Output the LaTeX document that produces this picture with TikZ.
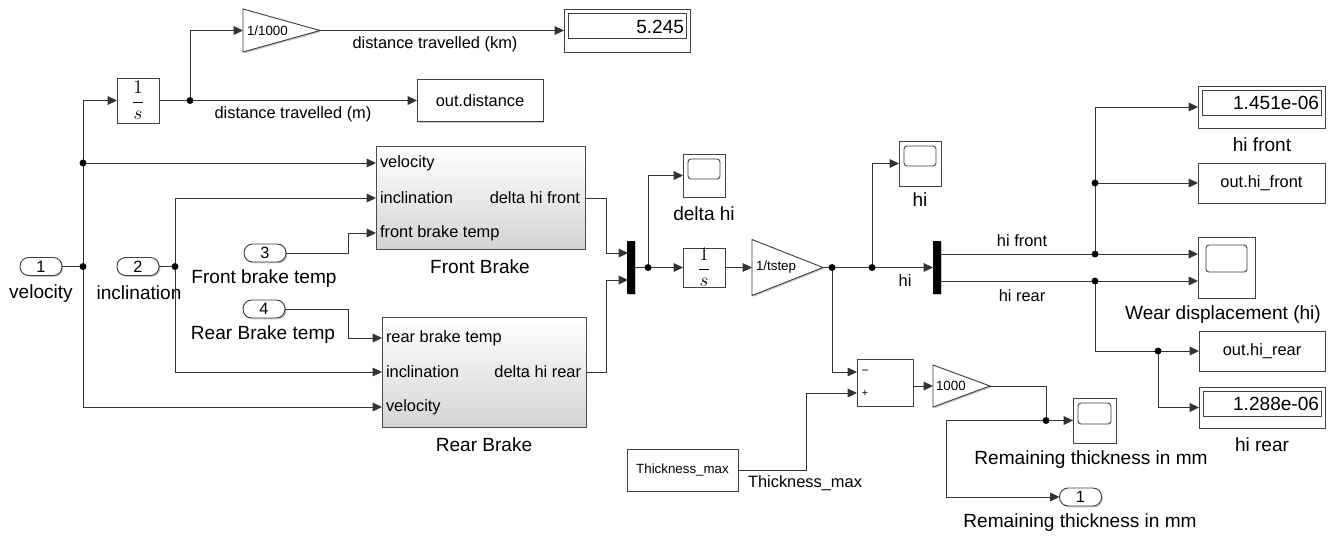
\documentclass[tikz,border=0pt]{standalone}
\usepackage{fontspec}
\setmainfont{Liberation Sans}
\usetikzlibrary{arrows.meta,calc,shadows}
\tikzset{
  every node/.style={inner sep=0pt,outer sep=0pt},
  shd/.style={drop shadow={shadow xshift=1pt,shadow yshift=-1pt,opacity=0.35,fill=black!60}},
  blk/.style={draw=black!75,line width=0.7pt,fill=white,shd},
  sub/.style={draw=black!70,line width=0.7pt,top color=white,bottom color=black!17,shd},
  port/.style={blk,rounded corners=6.5pt,minimum width=31.5pt,minimum height=13.5pt,font=\fontsize{12.2}{13}\selectfont},
  bar/.style={fill=black,draw=none,minimum width=6pt,minimum height=39.75pt,shd},
  win/.style={draw=black!75,line width=0.55pt},
  scr/.style={draw=black!75,line width=0.65pt,rounded corners=2.2pt},
  sig/.style={draw=black!80,line width=0.65pt},
  arr/.style={sig,-{Triangle[length=7pt,width=6.5pt]}},
  blab/.style={font=\fontsize{14.3}{16}\selectfont},
  slab/.style={font=\fontsize{12.3}{14}\selectfont},
  plab/.style={font=\fontsize{12.3}{14}\selectfont},
  glab/.style={font=\fontsize{10}{12}\selectfont},
  dnum/.style={font=\fontsize{14.3}{16}\selectfont},
  integ/.style={font=\fontsize{13.5}{15}\selectfont},
}
% screen of a scope block: offset from the top-left corner and height
\newcommand\scopescreen[3]{\draw[scr] ($(#1.north west)+(#2,#2)$) rectangle ($(#1.north east)+(-#2,#2+#3)$);}
% read-out window of a display block
\newcommand\dispwindow[1]{\draw[win] ($(#1.north west)+(4,4)$) rectangle ($(#1.north east)+(-4,29)$);}
% gain triangle drawn inside an invisible frame node
\newcommand\gaintri[1]{\filldraw[blk] (#1.north west) -- (#1.east) -- (#1.south west) -- cycle;}
\newcommand\jdot[1]{\fill[black] (#1) circle (2.6pt);}

\begin{document}
\begin{tikzpicture}[x=0.75pt,y=-0.75pt]
\fill[white] (0,0) rectangle (1333,537);
\useasboundingbox (0,0) rectangle (1333,537);

% ---------- inports ----------
\node[port] (in1) at (41,266.5) {1};
\node[port] (in2) at (138,266.5) {2};
\node[port] (in3) at (265,253) {3};
\node[port] (in4) at (264,309) {4};
\node[blab] (in1l) at (41,294) {velocity};
\node[blab] (in2l) at (139,293) {inclination};
\node[blab] (in3l) at (264,279) {Front brake temp};
\node[blab] (in4l) at (263,335) {Rear Brake temp};

% ---------- distance branch ----------
\node[blk,integ,minimum width=31.5pt,minimum height=33.75pt] (int1) at (138,100.5) {$\displaystyle\frac{1}{s}$};
\node[minimum width=57.75pt,minimum height=32.25pt] (g1) at (281.5,30.5) {};
\gaintri{g1}
\node[glab,anchor=west] (g1t) at ($(g1.west)+(4,0)$) {1/1000};
\node[blk,minimum width=94.5pt,minimum height=32.25pt] (d1) at (627,30.5) {};
\dispwindow{d1}
\node[dnum,anchor=east] (d1t) at ($(d1.north east)+(-6,17.5)$) {5.245};
\node[blk,plab,minimum width=94.5pt,minimum height=31.5pt] (od) at (480,100.5) {out.distance};
\node[slab] (s1) at (435,44) {distance travelled (km)};
\node[slab] (s2) at (293,114) {distance travelled (m)};

% ---------- Front Brake subsystem ----------
\node[sub,minimum width=156.75pt,minimum height=77.25pt] (fb) at (480.5,197.5) {};
\coordinate (fbp1) at (376,163);
\coordinate (fbp2) at (376,198);
\coordinate (fbp3) at (376,233);
\coordinate (fbo) at (585,198);
\node[plab,anchor=west] (fbt1) at ($(fbp1)+(4,0)$) {velocity};
\node[plab,anchor=west] (fbt2) at ($(fbp2)+(4,0)$) {inclination};
\node[plab,anchor=west] (fbt3) at ($(fbp3)+(4,0)$) {front brake temp};
\node[plab,anchor=east] (fbto) at ($(fbo)+(-5,0)$) {delta hi front};
\node[blab] (fbl) at (480,267) {Front Brake};

% ---------- Rear Brake subsystem ----------
\node[sub,minimum width=153pt,minimum height=82.5pt] (rb) at (484,372) {};
\coordinate (rbp1) at (382,338);
\coordinate (rbp2) at (382,372);
\coordinate (rbp3) at (382,407);
\coordinate (rbo) at (586,372);
\node[plab,anchor=west] (rbt1) at ($(rbp1)+(4,0)$) {rear brake temp};
\node[plab,anchor=west] (rbt2) at ($(rbp2)+(4,0)$) {inclination};
\node[plab,anchor=west] (rbt3) at ($(rbp3)+(4,0)$) {velocity};
\node[plab,anchor=east] (rbto) at ($(rbo)+(-5,0)$) {delta hi rear};
\node[blab] (rbl) at (484,445) {Rear Brake};

% ---------- input wiring ----------
\coordinate (jv) at (83,266.5);
\coordinate (jfv) at (83,163);
\coordinate (ji) at (175,266.5);
\draw[sig] (in1.east) -- (jv);
\draw[arr] (jv) |- (int1.west);
\draw[arr] (jv) |- (rbp3);
\draw[arr] (jfv) -- (fbp1);
\draw[sig] (in2.east) -- (ji);
\draw[arr] (ji) |- (fbp2);
\draw[arr] (ji) |- (rbp2);
\draw[arr] (in3.east) -- ++(62,0) |- (fbp3);
\draw[arr] (in4.east) -- ++(63,0) |- (rbp1);
\coordinate (jd) at (190,100.5);
\draw[arr] (int1.east) -- (od.west);
\draw[arr] (jd) |- (g1.west);
\draw[arr] (g1.east) -- (d1.west);
\jdot{jv}\jdot{jfv}\jdot{ji}\jdot{jd}

% ---------- mux, integrator and 1/tstep ----------
\node[bar] (mx) at (631,267.5) {};
\coordinate (mx1) at (628,253);
\coordinate (mx2) at (628,280);
\draw[arr] (fbo) -- ++(21,0) |- (mx1);
\draw[arr] (rbo) -- ++(20,0) |- (mx2);
\node[blk,minimum width=31.5pt,minimum height=32.25pt] (sdh) at (704,175.5) {};
\scopescreen{sdh}{5}{20}
\node[blab] (sdhl) at (704,214) {delta hi};
\node[blk,integ,minimum width=31.5pt,minimum height=29.25pt] (int2) at (704,267.5) {$\displaystyle\frac{1}{s}$};
\node[minimum width=53.25pt,minimum height=42pt] (g2) at (787.5,267.5) {};
\gaintri{g2}
\node[glab,anchor=west] (g2t) at ($(g2.west)+(4,0)$) {1/tstep};
\coordinate (jm) at (648,267.5);
\draw[sig] (mx.east) -- (jm);
\draw[arr] (jm) -- (int2.west);
\draw[arr] (jm) |- (sdh.west);
\draw[arr] (int2.east) -- (g2.west);
\jdot{jm}

% ---------- hi signal ----------
\node[blk,minimum width=31.5pt,minimum height=33.75pt] (shi) at (920,163.5) {};
\scopescreen{shi}{5}{20}
\node[blab] (shil) at (920,200) {hi};
\node[bar] (dm) at (937,267.5) {};
\coordinate (jg) at (832,267.5);
\coordinate (jh) at (872,267.5);
\draw[arr] (g2.east) -- (dm.west);
\draw[arr] (jh) |- (shi.west);
\node[slab] (hil) at (905,281) {hi};

% ---------- remaining thickness ----------
\node[blk,minimum width=42pt,minimum height=35.25pt] (sum) at (885,382.5) {};
\node[font=\fontsize{9}{9}\selectfont] (summ) at (865,372) {−};
\node[font=\fontsize{8}{8}\selectfont] (sump) at (865,393) {+};
\coordinate (smn) at (857,372);
\coordinate (spl) at (857,393);
\draw[arr] (jg) |- (smn);
\node[blk,glab,minimum width=83.25pt,minimum height=31.5pt] (th) at (682.5,470) {Thickness\_max};
\draw[arr] (th.east) -- ++(68,0) |- (spl);
\node[slab] (thl) at (805,483) {Thickness\_max};
\node[minimum width=42.75pt,minimum height=31.5pt] (g3) at (961.5,386) {};
\gaintri{g3}
\node[glab,anchor=west] (g3t) at ($(g3.west)+(3,0)$) {1000};
\draw[arr] (sum.east |- g3.west) -- (g3.west);
\node[blk,minimum width=32.25pt,minimum height=33.75pt] (srt) at (1094.5,420.5) {};
\scopescreen{srt}{5}{21}
\node[blab] (srtl) at (1091,460) {Remaining thickness in mm};
\node[port] (out1) at (1080.5,497) {1};
\node[blab] (out1l) at (1080,523) {Remaining thickness in mm};
\coordinate (jr) at (1046,420.5);
\draw[sig] (g3.east) -| (jr);
\draw[arr] (jr) -- (srt.west);
\draw[arr] (jr) -- (946,420.5) |- (out1.west);
\jdot{jg}\jdot{jh}\jdot{jr}

% ---------- front / rear wear outputs ----------
\coordinate (dmo1) at (941,254);
\coordinate (dmo2) at (941,281);
\node[blk,minimum width=42.75pt,minimum height=45.75pt] (sw) at (1226.5,267.5) {};
\scopescreen{sw}{8}{27}
\node[blab] (swl) at (1223,315) {Wear displacement (hi)};
\coordinate (sw1) at (1198,254);
\coordinate (sw2) at (1198,281);
\draw[arr] (dmo1) -- (sw1);
\draw[arr] (dmo2) -- (sw2);
\node[slab] (hfl) at (1022,241) {hi front};
\node[slab] (hrl) at (1022,296) {hi rear};

\node[blk,minimum width=95.25pt,minimum height=31.5pt] (dhf) at (1261.5,107) {};
\dispwindow{dhf}
\node[dnum,anchor=east] (dhft) at ($(dhf.north east)+(-6,17)$) {1.451e-06};
\node[blab] (dhfl) at (1262,145) {hi front};
\node[blk,plab,minimum width=95.25pt,minimum height=30pt] (ohf) at (1261.5,183) {out.hi\_front};
\coordinate (jf) at (1095,254);
\coordinate (jf2) at (1095,183);
\draw[arr] (jf) |- (dhf.west);
\draw[arr] (jf2) -- (ohf.west);

\node[blk,plab,minimum width=94.5pt,minimum height=30pt] (ohr) at (1262,351) {out.hi\_rear};
\node[blk,minimum width=94.5pt,minimum height=30.75pt] (dhr) at (1262,407.5) {};
\dispwindow{dhr}
\node[dnum,anchor=east] (dhrt) at ($(dhr.north east)+(-6,17)$) {1.288e-06};
\node[blab] (dhrl) at (1262,445) {hi rear};
\coordinate (jr2) at (1095,281);
\coordinate (jr3) at (1158,351);
\draw[arr] (jr2) |- (ohr.west);
\draw[arr] (jr3) |- (dhr.west);
\jdot{jf}\jdot{jf2}\jdot{jr2}\jdot{jr3}
\end{tikzpicture}
\end{document}
